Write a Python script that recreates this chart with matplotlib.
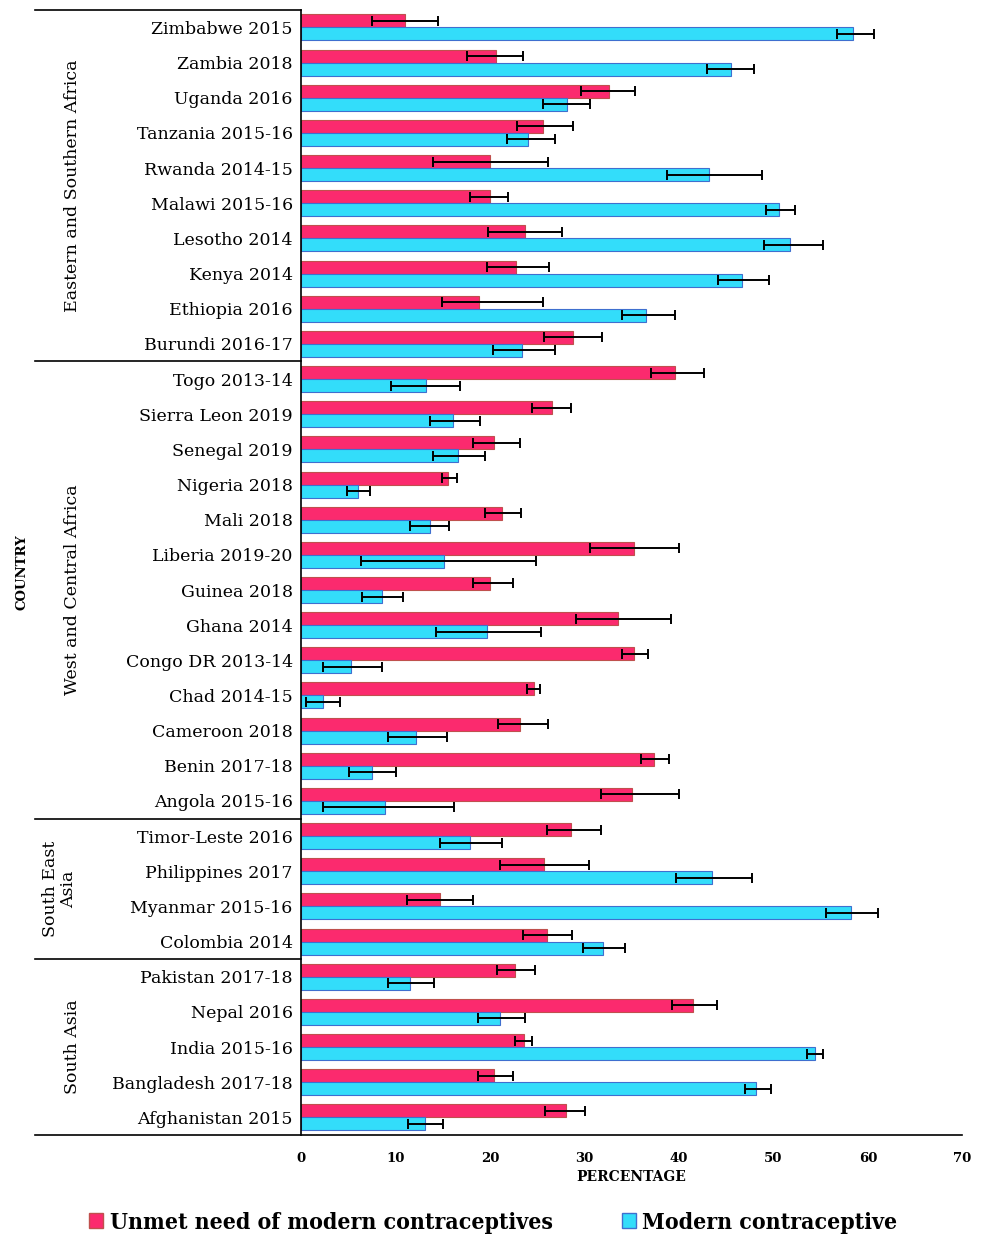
import matplotlib
matplotlib.use("Agg")
import matplotlib.pyplot as plt
import numpy as np
from matplotlib.patches import Patch
import matplotlib.transforms as mtrans

countries = [
    "Zimbabwe 2015", "Zambia 2018", "Uganda 2016", "Tanzania 2015-16", "Rwanda 2014-15",
    "Malawi 2015-16", "Lesotho 2014", "Kenya 2014", "Ethiopia 2016", "Burundi 2016-17",
    "Togo 2013-14", "Sierra Leon 2019", "Senegal 2019", "Nigeria 2018", "Mali 2018",
    "Liberia 2019-20", "Guinea 2018", "Ghana 2014", "Congo DR 2013-14", "Chad 2014-15",
    "Cameroon 2018", "Benin 2017-18", "Angola 2015-16",
    "Timor-Leste 2016", "Philippines 2017", "Myanmar 2015-16", "Colombia 2014",
    "Pakistan 2017-18", "Nepal 2016", "India 2015-16", "Bangladesh 2017-18", "Afghanistan 2015",
]
regions = ["Eastern and Southern Africa", "West and Central Africa", "South East\nAsia", "South Asia"]
region_sizes = [10, 13, 4, 5]

unmet = [11.0, 20.6, 32.6, 25.6, 20.0, 20.0, 23.7, 22.8, 18.8, 28.8,
         39.6, 26.6, 20.4, 15.6, 21.3, 35.2, 20.0, 33.6, 35.2, 24.7, 23.2, 37.4, 35.0,
         28.6, 25.7, 14.7, 26.0,
         22.7, 41.5, 23.6, 20.4, 28.0]
unmet_lo = [7.5, 17.6, 29.6, 22.9, 14.0, 17.9, 19.8, 19.7, 14.9, 25.7,
            37.0, 24.5, 18.2, 14.9, 19.5, 30.6, 18.2, 29.1, 34.0, 23.9, 20.9, 36.0, 31.7,
            26.0, 21.1, 11.2, 23.5,
            20.7, 39.3, 22.6, 18.7, 25.8]
unmet_hi = [14.5, 23.5, 35.4, 28.8, 26.1, 21.9, 27.6, 26.2, 25.6, 31.9,
            42.7, 28.6, 23.2, 16.5, 23.3, 40.0, 22.4, 39.2, 36.7, 25.3, 26.1, 38.9, 40.0,
            31.7, 30.5, 18.2, 28.7,
            24.8, 44.0, 24.5, 22.4, 30.1]

modern = [58.4, 45.5, 28.2, 24.0, 43.2, 50.6, 51.8, 46.7, 36.5, 23.4,
          13.2, 16.1, 16.6, 6.0, 13.6, 15.1, 8.6, 19.7, 5.3, 2.3, 12.2, 7.5, 8.9,
          17.9, 43.5, 58.2, 32.0,
          11.5, 21.1, 54.4, 48.2, 13.1]
modern_lo = [56.7, 43.0, 25.6, 21.8, 38.7, 49.2, 49.0, 44.1, 34.0, 20.3,
             9.5, 13.6, 14.0, 4.9, 11.5, 6.4, 6.5, 14.3, 2.3, 0.5, 9.2, 5.1, 2.3,
             14.7, 39.7, 55.6, 29.8,
             9.2, 18.7, 53.6, 47.0, 11.3]
modern_hi = [60.7, 47.9, 30.6, 26.9, 48.8, 52.3, 55.2, 49.5, 39.6, 26.9,
             16.8, 18.9, 19.5, 7.3, 15.7, 24.9, 10.8, 25.4, 8.6, 4.1, 15.4, 10.0, 16.2,
             21.3, 47.7, 61.1, 34.3,
             14.1, 23.7, 55.2, 49.8, 15.0]

PINK = "#FB2A6E"
CYAN = "#33DDFA"
SERIF = "DejaVu Serif"

fig = plt.figure(figsize=(9.87, 12.37), dpi=100)
ax = fig.add_axes([0.305, 0.0825, 0.67, 0.9095])

y = np.arange(len(countries))
h = 0.37
unmet = np.array(unmet)
modern = np.array(modern)
u_err = [unmet - np.array(unmet_lo), np.array(unmet_hi) - unmet]
m_err = [modern - np.array(modern_lo), np.array(modern_hi) - modern]

ax.barh(y - h / 2, unmet, height=h, color=PINK, edgecolor="#C0504D", linewidth=0.8,
        label="Unmet need of modern contraceptives")
ax.barh(y + h / 2, modern, height=h, color=CYAN, edgecolor="#3F6FCF", linewidth=0.8,
        label="Modern contraceptive")
ax.errorbar(unmet, y - h / 2, xerr=u_err, fmt="none", ecolor="black", elinewidth=1.4, capsize=3.5, capthick=1.4)
ax.errorbar(modern, y + h / 2, xerr=m_err, fmt="none", ecolor="black", elinewidth=1.4, capsize=3.5, capthick=1.4)

ax.set_xlim(0, 70)
ax.set_ylim(len(countries) - 0.5, -0.5)
ax.set_yticks(y)
ax.set_yticklabels(countries, fontsize=12.5, family=SERIF)
ax.tick_params(axis="y", length=0, pad=6)
ax.set_xticks(range(0, 71, 10))
ax.tick_params(axis="x", length=0, pad=12)
for lab in ax.get_xticklabels():
    lab.set_family(SERIF)
    lab.set_fontweight("bold")
    lab.set_fontsize(9.5)
ax.set_xlabel("PERCENTAGE", family=SERIF, fontweight="bold", fontsize=10, labelpad=4)

for s in ["top", "right"]:
    ax.spines[s].set_visible(False)
ax.spines["left"].set_linewidth(1.2)
ax.spines["bottom"].set_visible(False)

trans = mtrans.blended_transform_factory(ax.transAxes, ax.transData)
left_x = -0.402
# outer lines and group separators
ax.plot([left_x, 1.0], [len(countries) - 0.5] * 2, color="black", lw=1.2, transform=trans, clip_on=False)
ax.plot([left_x, 0.0], [-0.5, -0.5], color="black", lw=1.2, transform=trans, clip_on=False)
start = 0
for name, n in zip(regions, region_sizes):
    end = start + n
    if end < len(countries):
        ax.plot([left_x, 0.0], [end - 0.5] * 2, color="black", lw=1.2, transform=trans, clip_on=False)
    mid = (start + end - 1) / 2
    xpos = -0.346 if "\n" not in name else -0.365
    ax.text(xpos, mid, name, rotation=90, ha="center", va="center", transform=trans,
            family=SERIF, fontsize=12.5, linespacing=1.1)
    start = end

ax.text(-0.422, 0.5, "COUNTRY", rotation=90, ha="center", va="center", transform=ax.transAxes,
        family=SERIF, fontweight="bold", fontsize=9.5)

handles = [Patch(facecolor=PINK, edgecolor="#C0504D"), Patch(facecolor=CYAN, edgecolor="#3F6FCF")]
fig.legend(handles, ["Unmet need of modern contraceptives", "Modern contraceptive"],
           loc="lower center", bbox_to_anchor=(0.5, -0.014), ncol=2, frameon=False,
           prop={"family": SERIF, "weight": "bold", "size": 16.5, "stretch": "condensed"},
           handlelength=0.6, handleheight=0.6, handletextpad=0.3, columnspacing=3.0)

fig.savefig("out.png", dpi=100)
